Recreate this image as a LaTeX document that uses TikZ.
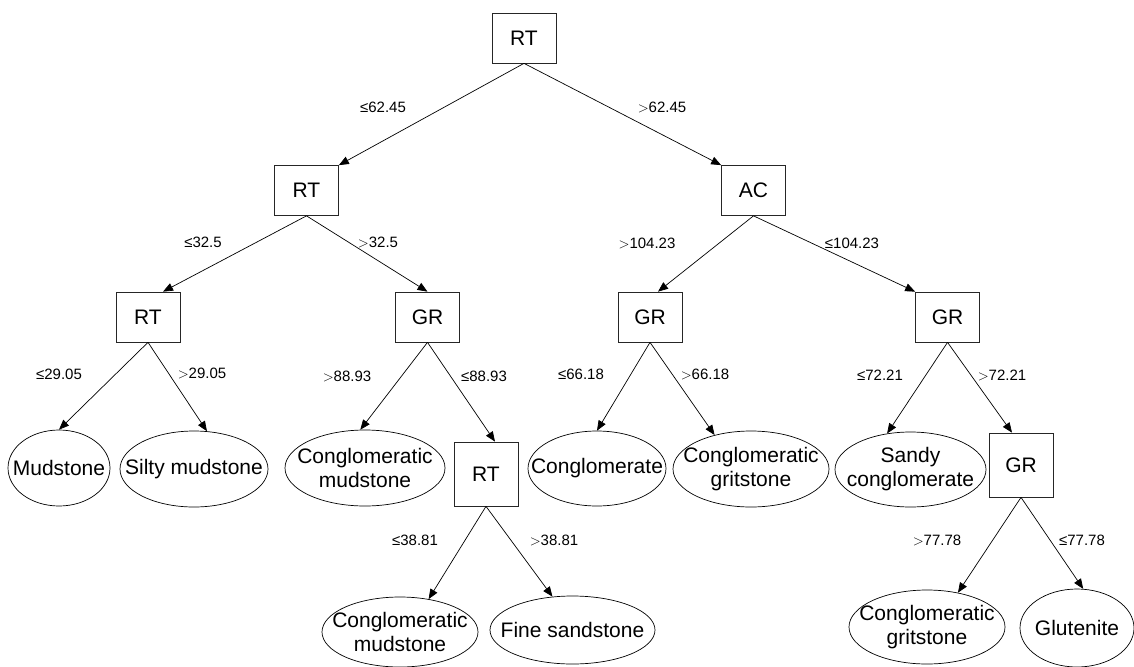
\documentclass[tikz,border=0pt]{standalone}
\usepackage{fontspec}
\setmainfont{Liberation Sans}
\usetikzlibrary{arrows.meta,shapes.geometric}
\begin{document}
\begin{tikzpicture}[x=1pt,y=-1pt,
  box/.style={draw=black!85, line width=0.7pt, minimum width=64pt, minimum height=50pt, inner sep=0pt, font=\fontsize{21}{24}\selectfont},
  sq/.style={box, minimum height=64pt},
  leaf/.style={draw=black, line width=0.7pt, ellipse, inner sep=0pt},
  leaftxt/.style={inner sep=0pt, align=center, font=\fontsize{21}{24}\selectfont},
  lbl/.style={inner sep=0pt, font=\fontsize{15}{18}\selectfont},
  edge/.style={draw=black, line width=0.7pt, -{Triangle[length=10pt,width=8pt]}}]
\useasboundingbox (0,0) rectangle (1134,666);
% decision boxes
\node[box] (root) at (524,38) {RT};
\node[box] (rt2) at (306.5,190.5) {RT};
\node[box] (ac) at (753.5,190.5) {AC};
\node[box] (rt3) at (148,317) {RT};
\node[box] (grL) at (427.5,317) {GR};
\node[box] (grM) at (650,317) {GR};
\node[box] (grR) at (947.5,317) {GR};
\node[sq] (rt4) at (486,474) {RT};
\node[sq] (gr4) at (1021,465) {GR};
% leaves
\node[leaf, minimum width=102pt, minimum height=76pt] (mud) at (59,468) {};
\node[leaftxt] (mudT) at (mud) {Mudstone};
\node[leaf, minimum width=148pt, minimum height=76pt] (silty) at (194,469) {};
\node[leaftxt] (siltyT) at (silty) {Silty mudstone};
\node[leaf, minimum width=160pt, minimum height=76pt] (cmud1) at (365,468) {};
\node[leaftxt] (cmud1T) at (cmud1) {Conglomeratic\\mudstone};
\node[leaf, minimum width=138pt, minimum height=75pt] (cong) at (597,468.5) {};
\node[leaftxt] (congT) at (cong) {Conglomerate};
\node[leaf, minimum width=156pt, minimum height=76pt] (cgrit1) at (751,469) {};
\node[leaftxt] (cgrit1T) at (cgrit1) {Conglomeratic\\gritstone};
\node[leaf, minimum width=151pt, minimum height=75pt] (sandy) at (910.5,469.5) {};
\node[leaftxt] (sandyT) at (sandy) {Sandy\\conglomerate};
\node[leaf, minimum width=156pt, minimum height=70pt] (cmud2) at (400,632) {};
\node[leaftxt] (cmud2T) at (cmud2) {Conglomeratic\\mudstone};
\node[leaf, minimum width=165pt, minimum height=68pt] (fine) at (572.5,630) {};
\node[leaftxt] (fineT) at (fine) {Fine sandstone};
\node[leaf, minimum width=156pt, minimum height=74pt] (cgrit2) at (927,627) {};
\node[leaftxt] (cgrit2T) at (cgrit2) {Conglomeratic\\gritstone};
\node[leaf, minimum width=114pt, minimum height=78pt] (glut) at (1077,628) {};
\node[leaftxt] (glutT) at (glut) {Glutenite};
% edges
\draw[edge] (root.south) -- (rt2.north east);
\draw[edge] (root.south) -- (ac.north west);
\draw[edge] (rt2.south) -- ([xshift=15pt]rt3.north);
\draw[edge] (rt2.south) -- (grL.north);
\draw[edge] (ac.south) -- ([xshift=8pt]grM.north);
\draw[edge] (ac.south) -- (grR.north west);
\draw[edge] (rt3.south) -- (mud.north);
\draw[edge] (rt3.south) -- (silty.71);
\draw[edge] (grL.south) -- (cmud1.97);
\draw[edge] (grL.south) -- ([xshift=9pt]rt4.north);
\draw[edge] (grM.south) -- (cong.north);
\draw[edge] (grM.south) -- (cgrit1.137);
\draw[edge] (grR.south) -- (sandy.123);
\draw[edge] (grR.south) -- ([xshift=-9pt]gr4.north);
\draw[edge] (rt4.south) -- (cmud2.49);
\draw[edge] (rt4.south) -- (fine.121);
\draw[edge] (gr4.south) -- (cgrit2.48);
\draw[edge] (gr4.south) -- (glut.81);
% labels
\node[lbl] (l1) at (383,107) {≤62.45};
\node[lbl] (l2) at (662,107) {$>$62.45};
\node[lbl] (l3) at (203,242) {≤32.5};
\node[lbl] (l4) at (378,242) {$>$32.5};
\node[lbl] (l5) at (647,243) {$>$104.23};
\node[lbl] (l6) at (852,243) {≤104.23};
\node[lbl] (l7) at (59,374) {≤29.05};
\node[lbl] (l8) at (202,373) {$>$29.05};
\node[lbl] (l9) at (347,376) {$>$88.93};
\node[lbl] (l10) at (484,376) {≤88.93};
\node[lbl] (l11) at (581,374) {≤66.18};
\node[lbl] (l12) at (705,374) {$>$66.18};
\node[lbl] (l13) at (880,375) {≤72.21};
\node[lbl] (l14) at (1002,375) {$>$72.21};
\node[lbl] (l15) at (415,540) {≤38.81};
\node[lbl] (l16) at (554,540) {$>$38.81};
\node[lbl] (l17) at (937,540) {$>$77.78};
\node[lbl] (l18) at (1082,540) {≤77.78};
\end{tikzpicture}
\end{document}
